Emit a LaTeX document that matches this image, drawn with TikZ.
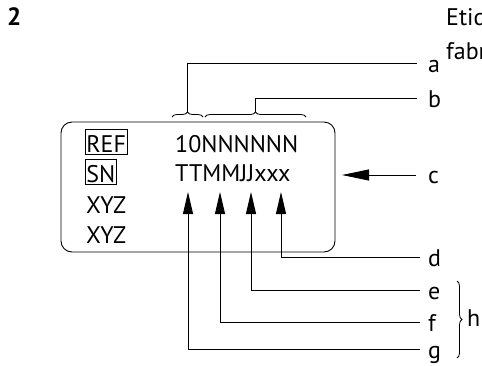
\documentclass[tikz,border=0pt]{standalone}
\usepackage{fontspec}
\setmainfont{PT Sans}
\usetikzlibrary{decorations.pathreplacing,arrows.meta}
\tikzset{
  txt/.style={anchor=base west,inner sep=0pt,font=\fontsize{24}{28}\selectfont},
  lbl/.style={anchor=base west,inner sep=0pt,font=\fontsize{24}{28}\selectfont},
  framed/.style={draw,line width=0.8pt,anchor=base west,inner xsep=1.5pt,inner ysep=2pt,text height=21pt,text depth=0pt,font=\fontsize{24}{28}\selectfont},
  ln/.style={line width=0.9pt},
  brc/.style={line width=0.8pt,decorate,decoration={brace,amplitude=5pt}},
  uparrow/.style={ln,{Triangle[length=22pt,width=10pt]}-},
}
\begin{document}
\begin{tikzpicture}[x=1pt,y=-1pt]
\clip (0,0) rectangle (482,365);
% title
\node[txt,font=\fontsize{25}{28}\selectfont\bfseries] (num) at (7,25) {2};
\node[txt] (tit1) at (446,25) {Etiqueta de};
\node[txt] (tit2) at (446,59) {fabricación};
% label frame
\draw[ln,rounded corners=11pt] (61,122) rectangle (335,252);
\node[framed] (ref) at (84.5,152) {REF};
\node[framed] (sn) at (84.5,182) {SN};
\node[txt] (xyz1) at (86,213) {XYZ};
\node[txt] (xyz2) at (86,243) {XYZ};
\node[txt] (num1) at (175,152) {10NNNNNN};
\node[txt] (num2) at (175,181) {TTMMJJxxx};
% braces on top
\draw[brc] (172,117) -- (203,117);
\draw[brc] (205,117) -- (306,117);
\coordinate (ta) at (187.5,112);
\coordinate (tb) at (255.5,112);
% right labels
\node[lbl] (la) at (428,72) {a};
\node[lbl] (lb) at (428,107) {b};
\node[lbl] (lc) at (428,183) {c};
\node[lbl] (ld) at (428,266) {d};
\node[lbl] (le) at (428,299) {e};
\node[lbl] (lf) at (428,331) {f};
\node[lbl] (lg) at (428,358) {g};
\coordinate (ea) at (417,63.5);
\coordinate (eb) at (417,98);
\coordinate (ec) at (416,175);
\coordinate (ed) at (420,257);
\coordinate (ee) at (420,290);
\coordinate (ef) at (420,322);
\coordinate (eg) at (420,349);
\draw[ln] (ta) |- (ea);
\draw[ln] (tb) |- (eb);
\coordinate (cc) at (342,175);
\draw[ln,-{Triangle[length=27pt,width=11pt]}] (ec) -- (cc);
% arrows from below
\coordinate (pg) at (188,192);
\coordinate (pf) at (220,192);
\coordinate (pe) at (251,192);
\coordinate (pd) at (281,192);
\draw[uparrow] (pg) |- (eg);
\draw[uparrow] (pf) |- (ef);
\draw[uparrow] (pe) |- (ee);
\draw[uparrow] (pd) |- (ed);
% brace h
\draw[brc] (457,281) -- (457,358);
\node[lbl] (lh) at (467,326) {h};
\end{tikzpicture}
\end{document}
